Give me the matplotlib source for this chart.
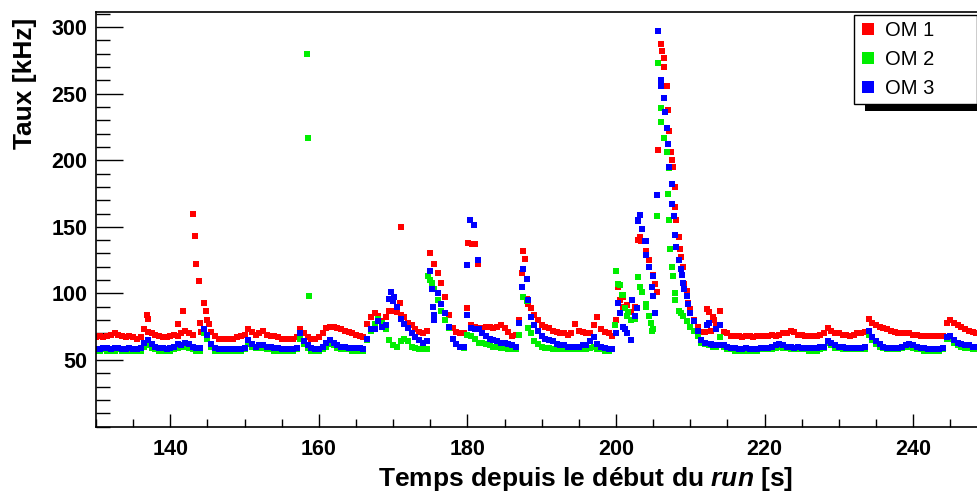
import numpy as np
import matplotlib
matplotlib.use("Agg")
import matplotlib.pyplot as plt
from matplotlib.patches import Rectangle
from matplotlib.ticker import MultipleLocator

plt.rcParams['font.family'] = ['Liberation Sans', 'DejaVu Sans']
plt.rcParams['font.weight'] = 'bold'
plt.rcParams['mathtext.fontset'] = 'custom'
plt.rcParams['mathtext.it'] = 'Liberation Sans:italic:bold'
plt.rcParams['mathtext.rm'] = 'Liberation Sans:bold'

# sampling grid (s), one value every 0.5 s
t_start, t_stop, t_step = 130.0, 249.0, 0.5

# OM 1 (red) rates in kHz on the grid, one row per 5 s
om1_grid = [
    67, 68, 67, 68, 69, 70, 69, 68, 67, 68,        # 130
    67, 66, 67, 73, 71, 70, 69, 68, 67, 67,        # 135
    68, 69, 68, 70, 72, 70, 69, 122, 78, 93,       # 140
    80, 71, 68, 66, 66, 66, 66, 66, 67, 68,        # 145
    69, 73, 71, 69, 70, 72, 69, 68, 68, 67,        # 150
    66, 66, 66, 66, 67, 73, 70, 67, 66, 66,        # 155
    67, 70, 74, 75, 75, 74, 73, 72, 71, 70,        # 160
    69, 68, 67, 77, 82, 85, 83, 79, 82, 87,        # 165
    87, 86, 84, 82, 78, 76, 73, 71, 70, 72,        # 170
    130, 122, 115, 108, 97, 84, 74, 71, 70, 70,    # 175
    89, 76, 75, 74, 74, 75, 75, 74, 75, 76,        # 180
    74, 71, 68, 69, 80, 132, 96, 89, 84, 80,       # 185
    76, 75, 74, 72, 71, 70, 70, 69, 70, 77,        # 190
    72, 71, 70, 70, 76, 82, 73, 71, 70, 68,        # 195
    80, 95, 90, 91, 86, 90, 140, 139, 132, 125,    # 200
    114, 101, 287, 270, 238, 200, 165, 142, 120, 102,  # 205
    88, 80, 75, 71, 71, 86, 82, 76, 87, 71,        # 210
    70, 68, 68, 68, 67, 68, 68, 67, 68, 68,        # 215
    68, 68, 69, 68, 69, 70, 70, 72, 71, 69,        # 220
    69, 68, 68, 68, 68, 69, 70, 74, 72, 70,        # 225
    70, 69, 69, 68, 69, 70, 70, 71, 81, 78,        # 230
    76, 75, 74, 73, 72, 71, 70, 70, 70, 70,        # 235
    69, 69, 68, 68, 68, 68, 68, 68, 68, 78,        # 240
    80, 78, 76, 75, 73, 72, 71, 70, 69,            # 245
]

# OM 2 (green)
om2_grid = [
    57, 57, 58, 57, 57, 57, 58, 57, 57, 57,        # 130
    57, 57, 57, 60, 61, 59, 58, 57, 57, 57,        # 135
    57, 58, 59, 60, 60, 59, 58, 57, 57, 70,        # 140
    66, 60, 57, 57, 57, 57, 57, 57, 57, 57,        # 145
    58, 62, 60, 59, 59, 59, 58, 58, 57, 57,        # 150
    57, 57, 57, 57, 58, 66, 62, 59, 57, 57,        # 155
    57, 58, 60, 62, 61, 59, 58, 58, 58, 57,        # 160
    57, 57, 57, 65, 72, 77, 81, 78, 73, 65,        # 165
    61, 60, 64, 66, 64, 60, 59, 58, 58, 58,        # 170
    110, 103, 95, 87, 80, 74, 66, 62, 60, 59,      # 175
    69, 68, 66, 63, 63, 62, 61, 60, 60, 59,        # 180
    59, 58, 58, 58, 69, 97, 94, 70, 64, 62,        # 185
    60, 59, 59, 58, 58, 58, 58, 58, 58, 58,        # 190
    58, 58, 58, 59, 60, 58, 58, 57, 57, 58,        # 195
    117, 106, 99, 83, 80, 81, 112, 101, 92, 83,    # 200
    73, 158, 239, 217, 175, 120, 95, 87, 83, 79,   # 205
    75, 72, 68, 63, 62, 61, 60, 60, 67, 60,        # 210
    58, 58, 57, 57, 57, 57, 57, 57, 57, 58,        # 215
    58, 58, 58, 59, 60, 59, 59, 58, 58, 58,        # 220
    58, 58, 57, 57, 57, 58, 59, 63, 61, 59,        # 225
    59, 58, 58, 58, 58, 58, 58, 58, 69, 65,        # 230
    62, 60, 59, 58, 58, 58, 58, 59, 60, 60,        # 235
    59, 58, 58, 57, 57, 57, 57, 57, 58, 66,        # 240
    66, 63, 61, 60, 59, 59, 58, 58, 58,            # 245
]

# OM 3 (blue)
om3_grid = [
    58, 58, 59, 59, 58, 59, 59, 58, 58, 59,        # 130
    58, 58, 59, 63, 65, 62, 60, 59, 59, 58,        # 135
    59, 60, 62, 61, 63, 62, 60, 59, 59, 73,        # 140
    69, 62, 59, 58, 58, 58, 58, 58, 58, 58,        # 145
    59, 65, 62, 60, 61, 61, 60, 60, 59, 59,        # 150
    58, 58, 58, 58, 59, 70, 64, 61, 59, 58,        # 155
    58, 60, 63, 65, 63, 61, 60, 60, 59, 59,        # 160
    59, 59, 58, 66, 73, 73, 79, 75, 76, 96,        # 165
    94, 90, 81, 77, 74, 70, 67, 65, 63, 64,        # 170
    117, 80, 100, 92, 85, 75, 66, 62, 60, 60,      # 175
    84, 74, 73, 73, 70, 68, 66, 65, 64, 63,        # 180
    63, 62, 61, 60, 78, 118, 111, 82, 76, 72,      # 185
    68, 66, 65, 64, 62, 61, 61, 60, 60, 60,        # 190
    60, 61, 61, 64, 67, 62, 60, 59, 58, 58,        # 195
    70, 85, 75, 70, 65, 83, 155, 148, 139, 120,    # 200
    113, 174, 260, 247, 212, 182, 144, 125, 108, 98,  # 205
    85, 79, 72, 65, 63, 78, 61, 73, 76, 61,        # 210
    60, 59, 59, 58, 58, 59, 58, 58, 58, 59,        # 215
    59, 59, 60, 61, 62, 61, 60, 60, 59, 60,        # 220
    59, 59, 59, 59, 59, 60, 60, 64, 63, 61,        # 225
    60, 60, 59, 59, 59, 59, 59, 60, 72, 67,        # 230
    64, 62, 60, 59, 59, 59, 59, 60, 61, 62,        # 235
    61, 60, 59, 59, 58, 58, 58, 58, 59, 67,        # 240
    68, 65, 63, 62, 61, 61, 60, 60, 60,            # 245
]

# extra samples between grid points (bursts and isolated outliers)
om1_extra_t = [136.4, 136.8, 137.0, 141.0, 141.7, 143.1, 143.3, 143.8, 144.2, 144.85,
               145.25, 170.9, 171.1, 180.1, 180.6, 181.0, 181.4, 187.3, 187.8, 188.2,
               200.3, 200.9, 203.2, 203.4, 205.2, 205.7, 206.2, 206.4, 206.8, 207.2,
               207.4, 207.7, 207.9, 208.1, 208.6, 208.8, 209.2, 209.7, 212.2, 212.8, 213.2]
om1_extra_v = [73, 84, 81, 77, 87, 160, 143, 109, 71, 87,
               77, 93, 150, 138, 137, 137, 122, 115, 126, 92,
               105, 97, 142, 139, 107, 208, 282, 277, 256, 222,
               206, 195, 180, 155, 133, 127, 107, 93, 88, 72, 80]

om2_extra_t = [158.35, 158.5, 158.7, 174.7, 175.2, 188.2, 199.8, 200.3, 200.8, 201.2,
               201.6, 203.2, 204.1, 204.7, 204.9, 205.7, 206.1, 206.9, 207.1, 207.2,
               207.3, 207.7, 207.9, 208.8, 209.9]
om2_extra_v = [280, 217, 98, 113, 108, 74, 76, 107, 99, 89,
               86, 105, 90, 78, 72, 273, 229, 206, 194, 155,
               133, 113, 100, 85, 75]

om3_extra_t = [169.7, 170.1, 175.2, 175.35, 175.45, 180.0, 180.3, 180.9, 181.4, 187.4,
               188.2, 200.3, 201.2, 202.2, 202.8, 202.9, 203.2, 203.9, 204.1, 204.8,
               205.0, 205.2, 205.7, 206.1, 206.6, 206.8, 207.2, 207.6, 207.8, 208.1,
               208.7, 208.9, 209.2, 209.7, 209.9, 212.3, 212.8, 213.8]
om3_extra_v = [101, 97, 103, 90, 84, 121, 155, 151, 125, 105,
               95, 93, 73, 95, 89, 154, 159, 139, 129, 105,
               98, 85, 297, 256, 236, 224, 195, 167, 158, 135,
               118, 114, 103, 92, 85, 76, 62, 61]

labels = ['OM 1', 'OM 2', 'OM 3']
colors = ['#ff0000', '#00ee00', '#0000ff']

t_grid = np.arange(t_start, t_stop + t_step / 2, t_step)

fig = plt.figure(figsize=(9.78, 4.94), dpi=100)
ax = fig.add_axes([96 / 978, 67.5 / 494, 884 / 978, 414 / 494])

series = [
    (om1_grid, om1_extra_t, om1_extra_v),
    (om2_grid, om2_extra_t, om2_extra_v),
    (om3_grid, om3_extra_t, om3_extra_v),
]
handles = []
for (grid, et, ev), lab, col in zip(series, labels, colors):
    t = np.concatenate([t_grid, et])
    v = np.concatenate([np.array(grid, float), ev])
    h, = ax.plot(t, v, ls='none', marker='s', ms=4.0, mew=0, color=col, label=lab)
    handles.append(h)

ax.set_xlim(130, 249)
ax.set_ylim(0, 311)
ax.set_xticks(np.arange(140, 241, 20))
ax.xaxis.set_minor_locator(MultipleLocator(5))
ax.set_yticks(np.arange(50, 301, 50))
ax.yaxis.set_minor_locator(MultipleLocator(10))
ax.tick_params(axis='both', which='both', direction='in', width=1, labelsize=15.5)
ax.tick_params(axis='y', which='major', length=19.5, pad=6)
ax.tick_params(axis='y', which='minor', length=10)
ax.tick_params(axis='x', which='major', length=9.5, pad=9)
ax.tick_params(axis='x', which='minor', length=5.5)
for sp in ax.spines.values():
    sp.set_linewidth(1.2)

fig.text(586 / 978, 1 - 479 / 494, r'Temps depuis le début du $\mathit{run}$ [s]',
         ha='center', va='center', fontsize=19, fontweight='bold')
fig.text(25 / 978, 1 - 83 / 494, 'Taux [kHz]', rotation=90,
         ha='center', va='center', fontsize=19, fontweight='bold')

# legend box with ROOT-like black shadow
fig.add_artist(Rectangle((865 / 978, 1 - 111 / 494), 0.2, 90 / 494,
                         transform=fig.transFigure, facecolor='black',
                         edgecolor='none', zorder=5))
fig.add_artist(Rectangle((854 / 978, 1 - 104 / 494), 123 / 978, 89 / 494,
                         transform=fig.transFigure, facecolor='white',
                         edgecolor='black', lw=1, zorder=6))
leg = fig.legend(handles=handles, loc='upper left',
                 bbox_to_anchor=(862 / 978, 1 - 21 / 494), bbox_transform=fig.transFigure,
                 frameon=False, markerscale=2.0, handlelength=0.6, handletextpad=0.55,
                 labelspacing=0.5, borderpad=0, borderaxespad=0,
                 prop={'family': 'Liberation Sans', 'weight': 'normal', 'size': 14.5})
leg.set_zorder(7)

fig.savefig('out.png', dpi=100)
